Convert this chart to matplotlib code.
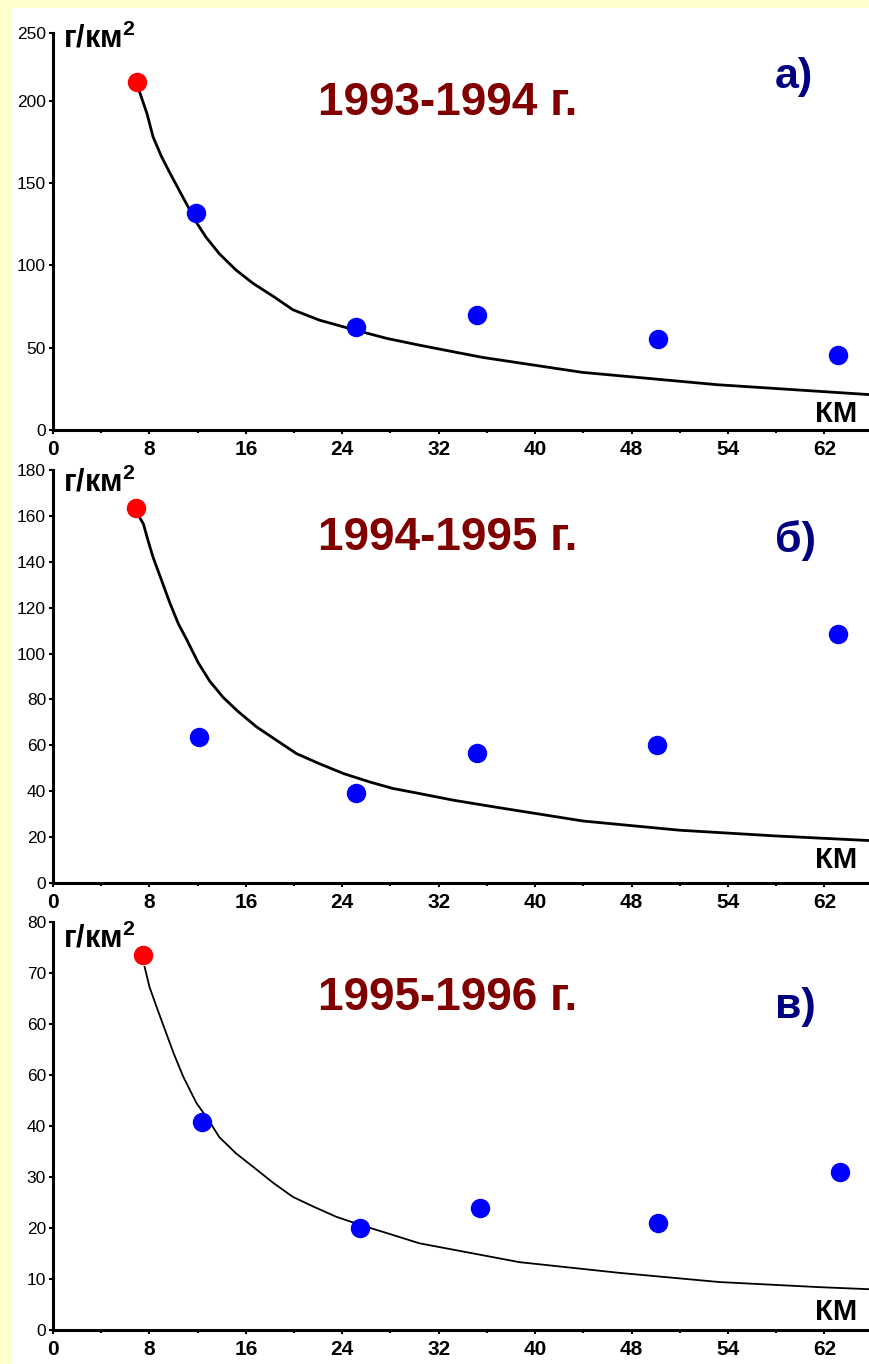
import matplotlib
matplotlib.use('Agg')
import matplotlib.pyplot as plt
from matplotlib.patches import Rectangle
from matplotlib.ticker import MultipleLocator

plt.rcParams['font.family'] = ['Liberation Sans', 'DejaVu Sans']
plt.rcParams['mathtext.default'] = 'regular'

# ---------------- data ----------------
x_tick_pos = [0, 8, 16, 24, 32, 40, 48, 56, 64]
x_tick_labels = ['0', '8', '16', '24', '32', '40', '48', '54', '62']

titles = ['1993-1994 г.', '1994-1995 г.', '1995-1996 г.']
letters = ['а)', 'б)', 'в)']

# panel a
a_red_x = [7.0]
a_red_y = [211]
a_blue_x = [11.9, 25.1, 35.2, 50.2, 65.1]
a_blue_y = [132, 62.4, 69.7, 55.2, 45.5]
a_curve_x = [7.1, 7.8, 8.3, 9.0, 9.7, 10.8, 11.9, 12.7, 13.8, 15.2, 16.6, 18.3, 19.9, 22.1,
             24.9, 27.7, 30.4, 33.2, 35.7, 43.9, 55.1, 67.7]
a_curve_y = [207, 192, 178, 166, 156, 141, 126, 117, 107, 97, 89, 81, 73, 66.7,
             61, 55.6, 51.5, 47.5, 44, 35, 27.5, 21.5]
a_yticks = [0, 50, 100, 150, 200, 241]
a_ylabels = ['0', '50', '100', '150', '200', '250']

# panel b
b_red_x = [6.9]
b_red_y = [163.5]
b_blue_x = [12.1, 25.1, 35.2, 50.1, 65.1]
b_blue_y = [63.5, 39.1, 56.5, 60, 108.7]
b_curve_x = [7.0, 7.5, 7.9, 8.3, 9.0, 9.7, 10.4, 11.1, 12.05, 13.0, 14.1, 15.3, 16.9, 18.6,
             20.2, 22.1, 24.1, 26.3, 28.2, 30.4, 33.2, 36.8, 44, 52, 60, 67.7]
b_curve_y = [161, 156.5, 149, 142, 132, 122, 113, 106, 96, 88, 81, 75, 68, 62,
             56.4, 52, 47.7, 44, 41.2, 39, 36.1, 33, 27, 23, 20.5, 18.5]
b_yticks = [0, 20, 40, 60, 80, 100, 120, 140, 160, 180]
b_ylabels = ['0', '20', '40', '60', '80', '100', '120', '140', '160', '180']

# panel c
c_red_x = [7.5]
c_red_y = [73.5]
c_blue_x = [12.4, 25.5, 35.4, 50.2, 65.3]
c_blue_y = [40.8, 20, 23.9, 21, 31]
c_curve_x = [7.6, 8.0, 8.6, 9.3, 10.0, 10.8, 11.9, 12.9, 13.8, 15.2, 16.6, 18.3, 19.9, 21.6,
             23.5, 25.5, 27.7, 30.4, 38.7, 47.0, 55.3, 63.6, 67.7]
c_curve_y = [71.2, 67.3, 63.3, 58.8, 54.3, 49.7, 44.5, 41.2, 37.8, 34.6, 32, 28.8, 26.1, 24.2,
             22.2, 20.6, 19, 17.0, 13.3, 11.2, 9.4, 8.4, 8.0]
c_yticks = [0, 10, 20, 30, 40, 50, 60, 70, 80]
c_ylabels = ['0', '10', '20', '30', '40', '60', '60', '70', '80']

# ---------------- figure ----------------
W, H = 869, 1364
fig = plt.figure(figsize=(W / 100, H / 100), dpi=100, facecolor='#FFFFCC')
fig.patches.append(Rectangle((11 / W, 0), 1 - 11 / W, 1 - 8 / H, transform=fig.transFigure,
                             facecolor='white', edgecolor='none', zorder=-10))


def fx(px):
    return px / W


def fy(py):
    return 1 - py / H


panels = [
    dict(box=(53, 33, 869, 430), ylim=241, yt=a_yticks, yl=a_ylabels,
         rx=a_red_x, ry=a_red_y, bx=a_blue_x, by=a_blue_y, cx=a_curve_x, cy=a_curve_y, lw=2.0,
         title_base=115, letter_base=88, unit_base=48, km_base=422),
    dict(box=(53, 470, 869, 883), ylim=180, yt=b_yticks, yl=b_ylabels,
         rx=b_red_x, ry=b_red_y, bx=b_blue_x, by=b_blue_y, cx=b_curve_x, cy=b_curve_y, lw=2.0,
         title_base=550, letter_base=552, unit_base=492, km_base=868),
    dict(box=(53, 922, 869, 1330), ylim=80, yt=c_yticks, yl=c_ylabels,
         rx=c_red_x, ry=c_red_y, bx=c_blue_x, by=c_blue_y, cx=c_curve_x, cy=c_curve_y, lw=1.3,
         title_base=1010, letter_base=1018, unit_base=947, km_base=1320),
]

for i, p in enumerate(panels):
    l, t, r, b = p['box']
    ax = fig.add_axes([fx(l), fy(b), (r - l) / W, (b - t) / H])
    ax.set_zorder(1)
    ax.set_facecolor('none')
    ax.set_xlim(0, 67.7)
    ax.set_ylim(0, p['ylim'])
    for s in ['top', 'right']:
        ax.spines[s].set_visible(False)
    ax.spines['left'].set_linewidth(2.2)
    ax.spines['bottom'].set_linewidth(2.2)
    ax.set_xticks(x_tick_pos)
    ax.set_xticklabels(x_tick_labels)
    ax.xaxis.set_minor_locator(MultipleLocator(4))
    ax.set_yticks(p['yt'])
    ax.set_yticklabels(p['yl'])
    ax.tick_params(axis='x', which='major', length=3, width=1.5, pad=4,
                   labelsize=15)
    ax.tick_params(axis='x', which='minor', length=2, width=1.5)
    ax.tick_params(axis='y', length=3, width=1.5, pad=2, labelsize=12.5)
    for lab in ax.get_xticklabels():
        lab.set_fontweight('bold')

    ax.plot(p['cx'], p['cy'], color='black', lw=p['lw'], zorder=2, clip_on=False,
            solid_joinstyle='round')
    ax.plot(p['bx'], p['by'], 'o', color='#0000FF', ms=13, mec='#0000FF', zorder=3, clip_on=False)
    ax.plot(p['rx'], p['ry'], 'o', color='#FF0000', ms=13, mec='#FF0000', zorder=4, clip_on=False)

    fig.text(fx(318), fy(p['title_base']), titles[i], ha='left', va='baseline',
             fontsize=33, fontweight='bold', color='#800000', zorder=5)
    fig.text(fx(775), fy(p['letter_base']), letters[i], ha='left', va='baseline',
             fontsize=31, fontweight='bold', color='#000080', zorder=5)
    fig.text(fx(63), fy(p['unit_base']), 'г/км$^2$', ha='left', va='baseline',
             fontsize=22, fontweight='bold', color='black', zorder=5)
    fig.text(fx(857), fy(p['km_base']), 'КМ', ha='right', va='baseline',
             fontsize=21, fontweight='bold', color='black', zorder=5)

fig.savefig('out.png', dpi=100, facecolor=fig.get_facecolor())
